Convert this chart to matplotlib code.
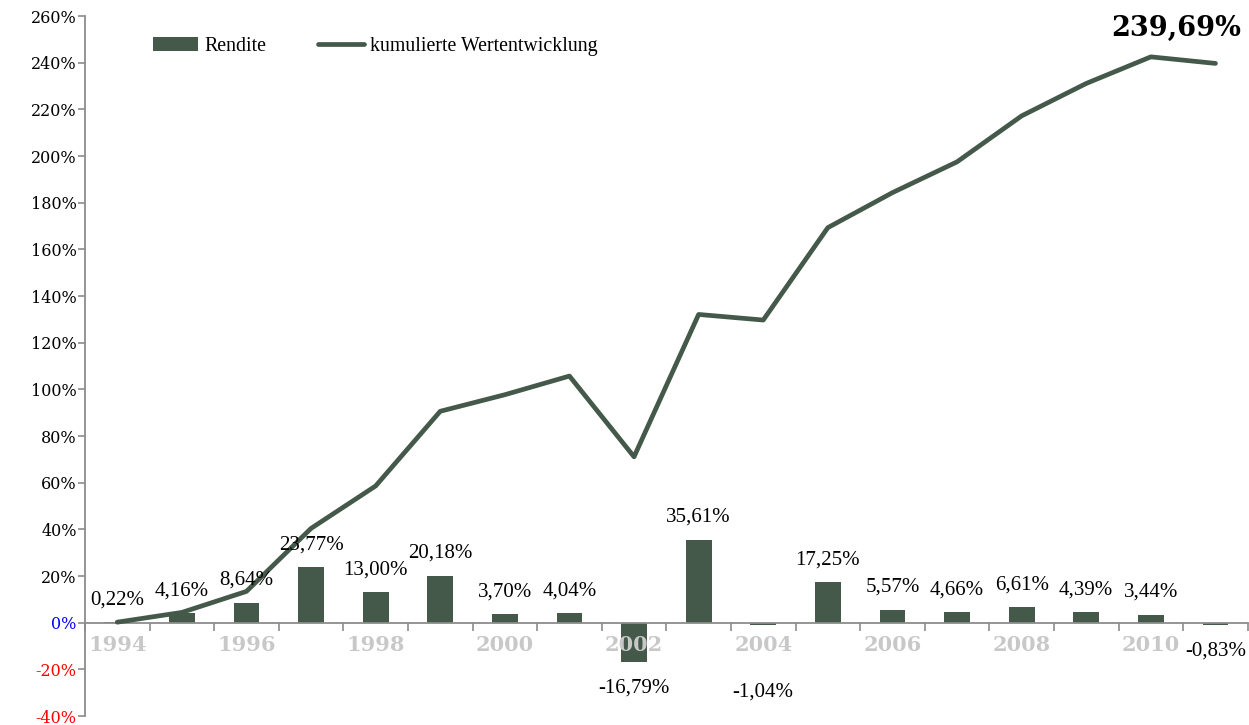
import numpy as np
import matplotlib.pyplot as plt
from matplotlib.ticker import FixedLocator

# === Data ===
years = list(range(1994, 2012))
rendite = [0.22, 4.16, 8.64, 23.77, 13.00, 20.18, 3.70, 4.04, -16.79, 35.61,
           -1.04, 17.25, 5.57, 4.66, 6.61, 4.39, 3.44, -0.83]
kumuliert = [0.22, 4.39, 13.4, 40.4, 58.6, 90.6, 97.7, 105.7, 71.1, 132.1,
             129.7, 169.3, 184.3, 197.5, 217.2, 231.1, 242.5, 239.69]
y_ticks = list(range(-40, 261, 20))

green = "#44594A"
serif_tick = "DejaVu Serif"
serif_text = "Liberation Serif"

fig = plt.figure(figsize=(12.49, 7.25), dpi=100)
ax = fig.add_axes([0.068, 0.0124, 0.931, 0.9655])

x = np.arange(len(years))
bars = ax.bar(x, rendite, width=0.4, color=green, label="Rendite", zorder=2)
line, = ax.plot(x, kumuliert, color=green, linewidth=3.4, solid_capstyle="round",
                label="kumulierte Wertentwicklung", zorder=3)
ax.set_axisbelow(False)

# --- data labels ---
for xi, v in zip(x, rendite):
    txt = f"{v:.2f}%".replace(".", ",")
    if v >= 0:
        off = 16
    elif -2 < v < -1.0:
        off = -48  # pushed below the year label
    else:
        off = -19
    ax.annotate(txt, (xi, v), xytext=(0, off), textcoords="offset points",
                ha="center", va="center", fontsize=15, family=serif_text,
                zorder=4)

# --- final value ---
ax.annotate(f"{kumuliert[-1]:.2f}%".replace(".", ","), (x[-1], kumuliert[-1]),
            xytext=(-28, 25), textcoords="offset points", ha="center",
            va="center", fontsize=19.5, fontweight="bold", family=serif_tick)

# --- axes ---
ax.set_xlim(-0.5, len(years) - 0.5)
ax.set_ylim(-40, 260)
ax.spines["top"].set_visible(False)
ax.spines["right"].set_visible(False)
ax.spines["bottom"].set_position(("data", 0))
for s in ("left", "bottom"):
    ax.spines[s].set_color("#8C8C8C")
    ax.spines[s].set_linewidth(1.3)

ax.set_yticks(y_ticks)
ax.set_yticklabels([f"{t}%" for t in y_ticks], family=serif_tick, fontsize=11.5)
for lab, t in zip(ax.get_yticklabels(), y_ticks):
    if t == 0:
        lab.set_color("blue")
    elif t < 0:
        lab.set_color("red")
ax.tick_params(axis="y", direction="out", length=5, color="#8C8C8C", width=1.2,
               pad=1)

ax.set_xticks(x)
ax.set_xticklabels([str(y) if i % 2 == 0 else "" for i, y in enumerate(years)],
                   family=serif_tick, fontsize=15, fontweight="bold",
                   color="#C8C8C8")
ax.tick_params(axis="x", which="major", length=0, pad=9)
ax.xaxis.set_minor_locator(FixedLocator(np.arange(-0.5, len(years), 1.0)))
ax.tick_params(axis="x", which="minor", direction="out", length=6,
               color="#8C8C8C", width=1.2)

ax.legend([bars, line], ["Rendite", "kumulierte Wertentwicklung"],
          loc="upper left", bbox_to_anchor=(0.043, 0.995), ncol=2,
          frameon=False, prop={"family": serif_text, "size": 14.3},
          handlelength=2.3, columnspacing=2.6, handletextpad=0.3)

fig.savefig("out.png", dpi=100)
